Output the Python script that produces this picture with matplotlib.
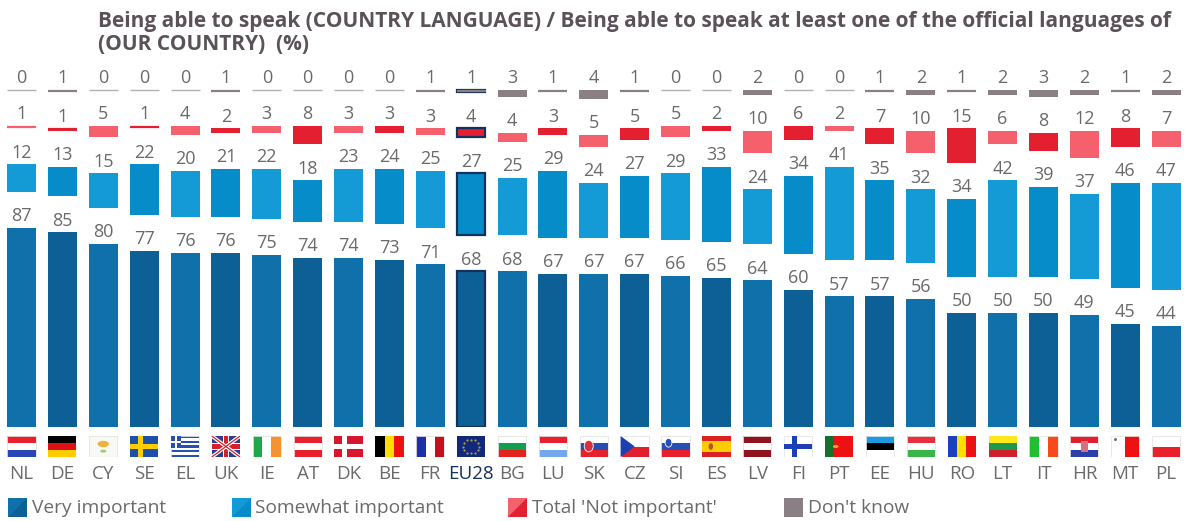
import matplotlib
matplotlib.use("Agg")
import matplotlib.pyplot as plt
from matplotlib.patches import Rectangle, Polygon, Ellipse, Circle
import numpy as np

plt.rcParams['font.family'] = ['Open Sans', 'DejaVu Sans']

W, H = 1186, 521

countries = ['NL', 'DE', 'CY', 'SE', 'EL', 'UK', 'IE', 'AT', 'DK', 'BE', 'FR', 'EU28', 'BG', 'LU', 'SK',
             'CZ', 'SI', 'ES', 'LV', 'FI', 'PT', 'EE', 'HU', 'RO', 'LT', 'IT', 'HR', 'MT', 'PL']
very = [87, 85, 80, 77, 76, 76, 75, 74, 74, 73, 71, 68, 68, 67, 67, 67, 66, 65, 64, 60, 57, 57, 56, 50, 50, 50, 49, 45, 44]
somewhat = [12, 13, 15, 22, 20, 21, 22, 18, 23, 24, 25, 27, 25, 29, 24, 27, 29, 33, 24, 34, 41, 35, 32, 34, 42, 39, 37, 46, 47]
not_imp = [1, 1, 5, 1, 4, 2, 3, 8, 3, 3, 3, 4, 4, 3, 5, 5, 5, 2, 10, 6, 2, 7, 10, 15, 6, 8, 12, 8, 7]
dont_know = [0, 1, 0, 0, 0, 1, 0, 0, 0, 0, 1, 1, 3, 1, 4, 1, 0, 0, 2, 0, 0, 1, 2, 1, 2, 3, 2, 1, 2]

legend_labels = ['Very important', 'Somewhat important', "Total 'Not important'", "Don't know"]
title = ("Being able to speak (COUNTRY LANGUAGE) / Being able to speak at least one of the official languages of\n"
         "(OUR COUNTRY)  (%)")

# colours alternate from one country to the next
very_cols = ['#0f70aa', '#0c6095']
some_cols = ['#149ad5', '#068dc9']
not_cols = ['#f4616c', '#e41f30']
dk_col = '#8a7f85'
text_col = '#6a6a6a'
navy = '#14305e'

# stripes of each flag, top to bottom ('h') or left to right ('v')
flags = {
    'NL': ('h', ['#e8202c', 'white', '#2a46b4']), 'DE': ('h', ['black', '#dd1111', '#ffcc00']),
    'CY': ('h', ['#f8f8f4']), 'SE': ('h', ['#1c4fa8']),
    'EL': ('h', ['#2a4fb4', 'white'] * 4 + ['#2a4fb4']),
    'UK': ('h', ['#2b3f8c']), 'IE': ('v', ['#1fa84a', 'white', '#f59331']), 'AT': ('h', ['#e8202c', 'white', '#e8202c']),
    'DK': ('h', ['#d8172f']), 'BE': ('v', ['black', '#ffdd00', '#ee1111']), 'FR': ('v', ['#1c2fa8', 'white', '#c4111c']),
    'EU28': ('h', ['#12287a']), 'BG': ('h', ['white', '#12a050', '#e5231c']), 'LU': ('h', ['#e8202c', 'white', '#74a8ee']),
    'SK': ('h', ['white', '#2450b4', '#e8202c']), 'CZ': ('h', ['white', '#e0202c']), 'SI': ('h', ['white', '#2a4fb4', '#e8202c']),
    'ES': ('h', ['#dd2020', '#ffcc00', '#ffcc00', '#dd2020']), 'LV': ('h', ['#8e1520', 'white', '#8e1520']),
    'FI': ('h', ['white']), 'PT': ('v', ['#14702c', '#ee1111', '#ee1111']), 'EE': ('h', ['#1e9ae0', 'black', 'white']),
    'HU': ('h', ['#e8303c', 'white', '#3ab54a']), 'RO': ('v', ['#1c3fc0', '#ffdd00', '#ee1111']),
    'LT': ('h', ['#ffe81a', '#1a9a48', '#d0202c']), 'IT': ('v', ['#1fc030', 'white', '#f44a1c']),
    'HR': ('h', ['#e0202c', 'white', '#2a3fa8']), 'MT': ('v', ['white', '#ee1111']), 'PL': ('h', ['white', '#e8202c']),
}


def draw_flag(ax, i, code):
    w = 0.69
    left = i - w / 2
    mode, cols = flags[code]
    n = len(cols)
    for k, c in enumerate(cols):
        if mode == 'h':
            ax.add_patch(Rectangle((left, 1 - (k + 1) / n), w, 1 / n, fc=c, lw=0))
        else:
            ax.add_patch(Rectangle((left + k * w / n, 0), w / n, 1, fc=c, lw=0))
    if 'white' in cols or code == 'CY':
        ax.add_patch(Rectangle((left, 0), w, 1, fc='none', ec='#e4e4e4', lw=0.6))
    if code == 'CY':
        ax.add_patch(Ellipse((i, 0.62), w * 0.4, 0.3, angle=8, fc='#eeb040', lw=0))
        ax.add_patch(Ellipse((i, 0.28), w * 0.22, 0.14, fc='#a8c878', lw=0))
    if code in ('SE', 'DK', 'FI'):
        c = {'SE': '#ffcc00', 'DK': 'white', 'FI': '#1c3fb4'}[code]
        ax.add_patch(Rectangle((left, 0.4), w, 0.2, fc=c, lw=0))
        ax.add_patch(Rectangle((left + w * 0.28, 0), w * 0.17, 1, fc=c, lw=0))
    if code == 'EL':
        ax.add_patch(Rectangle((left, 0.45), w * 0.37, 0.55, fc='#2a4fb4', lw=0))
        ax.add_patch(Rectangle((left + w * 0.14, 0.45), w * 0.09, 0.55, fc='white', lw=0))
        ax.add_patch(Rectangle((left, 0.67), w * 0.37, 0.11, fc='white', lw=0))
    if code == 'UK':
        ax.plot([left, left + w], [0, 1], color='white', lw=2.6, solid_capstyle='butt')
        ax.plot([left, left + w], [1, 0], color='white', lw=2.6, solid_capstyle='butt')
        ax.plot([left, left + w], [0, 1], color='#d8202c', lw=0.9, solid_capstyle='butt')
        ax.plot([left, left + w], [1, 0], color='#d8202c', lw=0.9, solid_capstyle='butt')
        ax.add_patch(Rectangle((left, 0.33), w, 0.34, fc='white', lw=0))
        ax.add_patch(Rectangle((i - w * 0.12, 0), w * 0.24, 1, fc='white', lw=0))
        ax.add_patch(Rectangle((left, 0.4), w, 0.2, fc='#d8202c', lw=0))
        ax.add_patch(Rectangle((i - w * 0.07, 0), w * 0.14, 1, fc='#d8202c', lw=0))
    if code == 'EU28':
        for a in np.linspace(0, 2 * np.pi, 12, endpoint=False):
            ax.plot(i + 0.19 * np.cos(a), 0.5 + 0.33 * np.sin(a), '.', color='#c8b840', ms=1)
    if code == 'SK':
        ax.add_patch(Ellipse((left + w * 0.32, 0.52), w * 0.32, 0.55, fc='#d8303c', ec='white', lw=0.6))
    if code == 'CZ':
        ax.add_patch(Polygon([(left, 1), (left + w * 0.5, 0.5), (left, 0)], fc='#1c3fb4', lw=0))
    if code == 'SI':
        ax.add_patch(Ellipse((left + w * 0.25, 0.68), w * 0.24, 0.42, fc='#2a4fb4', ec='white', lw=0.6))
    if code == 'ES':
        ax.add_patch(Ellipse((left + w * 0.3, 0.5), w * 0.16, 0.32, fc='#c05020', lw=0))
    if code == 'PT':
        ax.add_patch(Circle((left + w * 0.38, 0.5), 0.07, fc='#e8b030', lw=0))
    if code == 'HR':
        ax.add_patch(Rectangle((i - w * 0.12, 0.22), w * 0.24, 0.56, fc='#d87080', lw=0))
    if code == 'MT':
        ax.plot(left + w * 0.12, 0.85, '.', color='#777777', ms=2.5)


def px_rect(x0, y0, x1, y1):
    # figure fractions from pixel edges, y counted from the top
    return [x0 / W, 1 - y1 / H, (x1 - x0) / W, (y1 - y0) / H]


fig = plt.figure(figsize=(W / 100, H / 100), dpi=100)
ax = fig.add_axes(px_rect(0, 0, W, 427))

per_unit = 2.29   # pixels for one percentage point
gap = 36 / per_unit
step = 40.88
x = np.arange(len(countries))
ax.set_xlim(-21.5 / step, (W - 21.5) / step)
ax.set_ylim(0, 427 / per_unit)
ax.axis('off')

bottom = np.zeros(len(countries))
for values, cols in [(very, very_cols), (somewhat, some_cols), (not_imp, not_cols), (dont_know, [dk_col, dk_col])]:
    values = np.array(values)
    colours = [cols[i % 2] for i in x]
    ax.bar(x, values, 0.71, bottom=bottom, color=colours, lw=0)
    tops = bottom + values
    for i in x:
        if values[i] == 0:
            ax.hlines(tops[i], i - 0.355, i + 0.355, color='#b5b0b2', lw=1)
        elif values[i] == 1:
            ax.hlines(tops[i] - 0.4, i - 0.355, i + 0.355, color=colours[i], lw=1.6)
        ax.annotate(str(values[i]), (i, tops[i]), xytext=(0, 2), textcoords='offset points',
                    ha='center', va='bottom', fontsize=13, color=text_col)
        if countries[i] == 'EU28':
            ax.add_patch(Rectangle((i - 0.345, bottom[i]), 0.69, values[i], fc='none', ec=navy, lw=1.6))
    bottom = tops + gap

ax_flags = fig.add_axes(px_rect(0, 436, W, 457))
ax_flags.set_xlim(ax.get_xlim())
ax_flags.set_ylim(0, 1)
for s in ax_flags.spines.values():
    s.set_visible(False)
ax_flags.set_yticks([])
ax_flags.set_xticks(x)
ax_flags.set_xticklabels(countries, fontsize=13.5, color=text_col)
ax_flags.tick_params(axis='x', length=0, pad=6)
ax_flags.get_xticklabels()[countries.index('EU28')].set_color(navy)
for i, code in enumerate(countries):
    draw_flag(ax_flags, i, code)

fig.text(98 / W, 1 - 11 / H, title, fontsize=15.07, fontweight='bold', color='#5a5258',
         ha='left', va='top', linespacing=1.12)

# legend squares split on the diagonal into the two shades of each series
leg_x = [8, 232, 508, 784]
text_x = [32, 255, 532, 808]
leg_cols = [very_cols, some_cols, not_cols, [dk_col, dk_col]]
for x0, tx, lab, cols in zip(leg_x, text_x, legend_labels, leg_cols):
    x1, y0, y1 = x0 + 19, 498, 517
    pts0 = [(x0, y0), (x1, y0), (x1, y1), (x0, y1)]
    pts1 = [(x0, y0), (x1, y0), (x0, y1)]
    fig.add_artist(Polygon([(a / W, 1 - b / H) for a, b in pts0], transform=fig.transFigure,
                           fc=cols[1], lw=0))
    fig.add_artist(Polygon([(a / W, 1 - b / H) for a, b in pts1], transform=fig.transFigure,
                           fc=cols[0], lw=0))
    fig.text(tx / W, 1 - 508 / H, lab, fontsize=13.8, color=text_col, ha='left', va='center')

fig.savefig('out.png', dpi=100)
